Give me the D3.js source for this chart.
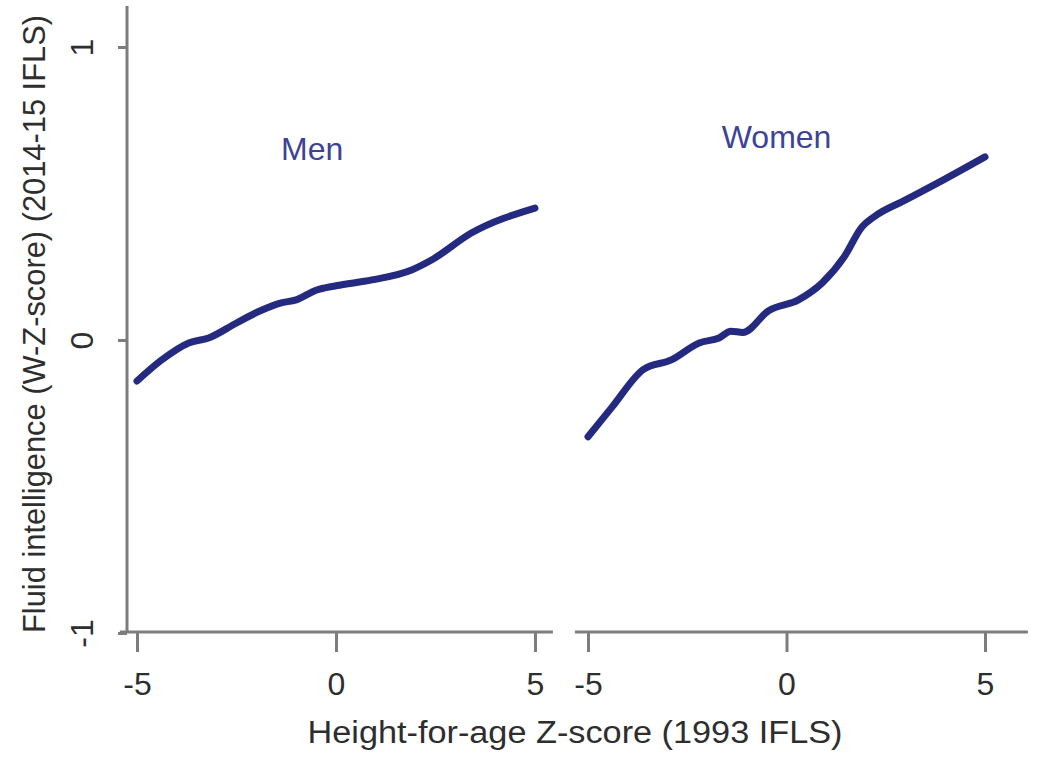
<!DOCTYPE html>
<html>
<head>
<meta charset="utf-8">
<script src="https://cdn.jsdelivr.net/npm/d3@7"></script>
<style>
  body { margin: 0; background: #fff; }
  svg { display: block; font-family: Arial, "Liberation Sans", sans-serif; }
</style>
</head>
<body>
<svg></svg>
<script>
var WIDTH = 1040,
	HEIGHT = 758;

// Data
var panels = ["Men", "Women"];
var men_x = [-5, -4.4, -3.7, -3.2, -2.5, -1.9, -1.4, -1.0, -0.5, 0, 0.9, 1.9, 2.4, 3.4, 5];
var men_y = [-0.14, -0.07, -0.01, 0.007, 0.058, 0.10, 0.126, 0.137, 0.17, 0.185, 0.205, 0.239, 0.273, 0.365, 0.45];
var women_x = [-5, -4.4, -3.6, -2.9, -2.2, -1.7, -1.4, -1.1, -0.45, 0.3, 0.9, 1.45, 1.9, 2.2, 3.0, 4.0, 5];
var women_y = [-0.33, -0.23, -0.10, -0.068, -0.01, 0.007, 0.03, 0.026, 0.10, 0.137, 0.195, 0.283, 0.386, 0.42, 0.478, 0.55, 0.625];
var x_ticks = [-5, 0, 5],
	y_ticks = [-1, 0, 1];
var x_title = "Height-for-age Z-score (1993 IFLS)",
	y_title = "Fluid intelligence (W-Z-score) (2014-15 IFLS)";

var AXIS_COL = "#7d7d7d",
	TEXT_COL = "#2e2e2e",
	LINE_COL = "#232a80",
	LABEL_COL = "#3d4396",
	FONT = 32;

var svg = d3.select("svg")
	.attr("width", WIDTH)
	.attr("height", HEIGHT);

var y = d3.scaleLinear().domain([-1, 1]).range([633, 47]);

// one x scale per panel
var xs = [
	d3.scaleLinear().domain([-5, 5]).range([137, 535]),
	d3.scaleLinear().domain([-5, 5]).range([588, 985])
];
var series = [
	men_x.map(function(d, i) { return [d, men_y[i]]; }),
	women_x.map(function(d, i) { return [d, women_y[i]]; })
];
// x extent of each panel's axis line
var spans = [[-5.43, 5.45], [-5.33, 6.08]];
var label_pos = [[-0.6, 0.614], [-0.25, 0.655]];

var AXIS_Y = y(-1) - 1;

panels.forEach(function(name, p) {
	var x = xs[p];

	// x axis line
	svg.append("line")
		.attr("x1", x(spans[p][0]))
		.attr("x2", x(spans[p][1]))
		.attr("y1", AXIS_Y)
		.attr("y2", AXIS_Y)
		.attr("stroke", AXIS_COL)
		.attr("stroke-width", 3);

	var ax = svg.append("g")
		.attr("transform", "translate(0," + AXIS_Y + ")")
		.call(d3.axisBottom(x).tickValues(x_ticks).tickSize(20).tickPadding(20).tickFormat(d3.format("d")));
	ax.select(".domain").remove();
	ax.selectAll("line").attr("stroke", AXIS_COL).attr("stroke-width", 3);
	ax.selectAll("text")
		.attr("fill", TEXT_COL)
		.style("font-size", FONT + "px")
		.text(function(d) { return String(d).replace("\u2212", "-"); });

	// smoothed curve
	var line = d3.line()
		.x(function(d) { return x(d[0]); })
		.y(function(d) { return y(d[1]); })
		.curve(d3.curveMonotoneX);

	svg.append("path")
		.datum(series[p])
		.attr("d", line)
		.attr("fill", "none")
		.attr("stroke", LINE_COL)
		.attr("stroke-width", 7)
		.attr("stroke-linecap", "round");

	// panel label
	svg.append("text")
		.attr("x", x(label_pos[p][0]))
		.attr("y", y(label_pos[p][1]))
		.attr("text-anchor", "middle")
		.attr("fill", LABEL_COL)
		.style("font-size", FONT + "px")
		.text(name);
});

// y axis (left panel only)
var Y_AXIS_X = 127;
svg.append("line")
	.attr("x1", Y_AXIS_X)
	.attr("x2", Y_AXIS_X)
	.attr("y1", y(1.14))
	.attr("y2", AXIS_Y)
	.attr("stroke", AXIS_COL)
	.attr("stroke-width", 3);

var yax = svg.append("g")
	.attr("transform", "translate(" + Y_AXIS_X + ",0)")
	.call(d3.axisLeft(y).tickValues(y_ticks).tickSize(9).tickFormat(d3.format("d")));
yax.select(".domain").remove();
yax.selectAll("line").attr("stroke", AXIS_COL).attr("stroke-width", 3);
yax.selectAll("text")
	.attr("fill", TEXT_COL)
	.style("font-size", FONT + "px")
	.attr("text-anchor", "middle")
	.attr("x", 0)
	.attr("dy", 0)
	.attr("y", -34)
	.attr("transform", "rotate(-90)")
	.text(function(d) { return String(d).replace("\u2212", "-"); });

// axis titles
svg.append("text")
	.attr("x", 575)
	.attr("y", 743)
	.attr("text-anchor", "middle")
	.attr("fill", TEXT_COL)
	.attr("textLength", 535)
	.attr("lengthAdjust", "spacingAndGlyphs")
	.style("font-size", "31px")
	.text(x_title);

svg.append("text")
	.attr("transform", "translate(45,324) rotate(-90)")
	.attr("text-anchor", "middle")
	.attr("fill", TEXT_COL)
	.attr("textLength", 618)
	.attr("lengthAdjust", "spacingAndGlyphs")
	.style("font-size", "31px")
	.text(y_title);
</script>
</body>
</html>
